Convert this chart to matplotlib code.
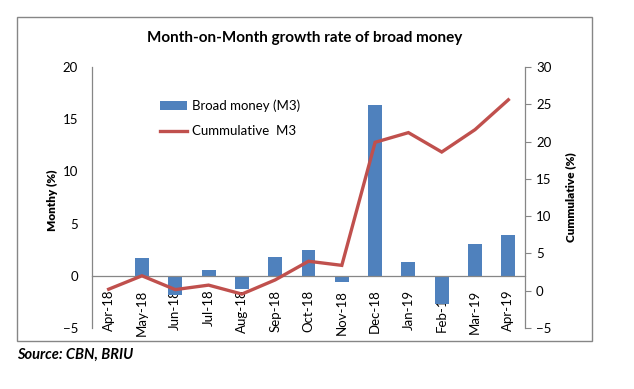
import matplotlib
matplotlib.use("Agg")
import matplotlib.pyplot as plt
from matplotlib.patches import Rectangle
import numpy as np

plt.rcParams['font.family'] = ['Lato', 'DejaVu Sans']

months = ["Apr-18", "May-18", "Jun-18", "Jul-18", "Aug-18", "Sep-18", "Oct-18",
          "Nov-18", "Dec-18", "Jan-19", "Feb-19", "Mar-19", "Apr-19"]
broad_money = [0.0, 1.7, -1.8, 0.6, -1.25, 1.8, 2.5, -0.55, 16.4, 1.35, -2.7, 3.0, 3.9]
cumulative = [0.2, 2.0, 0.15, 0.75, -0.45, 1.45, 3.95, 3.4, 19.9, 21.2, 18.6, 21.6, 25.6]

bar_color = "#4F81BD"
line_color = "#C0504D"

fig = plt.figure(figsize=(6.34, 3.89), dpi=100)
fig.patch.set_facecolor("white")

ax1 = fig.add_axes([92/634, 1-328/389, (525-92)/634, (328-67)/389])
ax2 = ax1.twinx()

x = np.arange(len(months))
bars = ax1.bar(x, broad_money, width=0.42, color=bar_color, label="Broad money (M3)", zorder=2)
line, = ax2.plot(x, cumulative, color=line_color, lw=2.4, label="Cummulative  M3", solid_joinstyle='miter')

ax1.set_xlim(-0.5, len(months) - 0.5)
ax1.set_ylim(-5, 20)
ax1.set_yticks([-5, 0, 5, 10, 15, 20])
ax2.set_ylim(-5, 30)
ax2.set_yticks([-5, 0, 5, 10, 15, 20, 25, 30])

for ax in (ax1, ax2):
    ax.spines['top'].set_visible(False)
    for s in ax.spines.values():
        s.set_color("#868686")
        s.set_linewidth(0.9)
    ax.set_facecolor("none")

ax1.spines['bottom'].set_position(('data', 0))
ax2.spines['bottom'].set_visible(False)
ax1.spines['right'].set_visible(False)
ax2.spines['left'].set_visible(False)

ax1.set_xticks(x)
ax1.set_xticklabels(months, rotation=90, fontsize=9.5)
ax1.tick_params(axis='x', length=0, pad=10)
ax1.tick_params(axis='y', length=0, pad=10, labelsize=9.5)
ax2.tick_params(axis='y', length=4, direction='out', color="#868686", pad=4, labelsize=9.5)

fig.text(52/634, 1-200/389, "Monthy (%)", rotation=90, fontsize=8.5, fontweight='heavy',
         ha='center', va='center')
fig.text(571/634, 1-197/389, "Cummulative (%)", rotation=90, fontsize=8.5, fontweight='heavy',
         ha='center', va='center')

fig.text(305/634, 1-38/389, "Month-on-Month growth rate of broad money", fontsize=11,
         fontweight='bold', ha='center', va='center')

leg = ax2.legend([bars, line], ["Broad money (M3)", "Cummulative  M3"],
                 loc='upper left', bbox_to_anchor=(0.13, 0.92), frameon=False,
                 fontsize=9.5, handlelength=2.0, handleheight=0.6, labelspacing=1.0,
                 handletextpad=0.4)

fig.patches.append(Rectangle((17/634, 1-341/389), 575/634, 324/389, transform=fig.transFigure,
                             fill=False, edgecolor="#868686", lw=1.0))

fig.text(17/634, 1-355/389, "Source: CBN, BRIU", fontsize=10.5, fontweight='bold',
         fontstyle='italic', ha='left', va='center')

fig.savefig("out.png", dpi=100)
